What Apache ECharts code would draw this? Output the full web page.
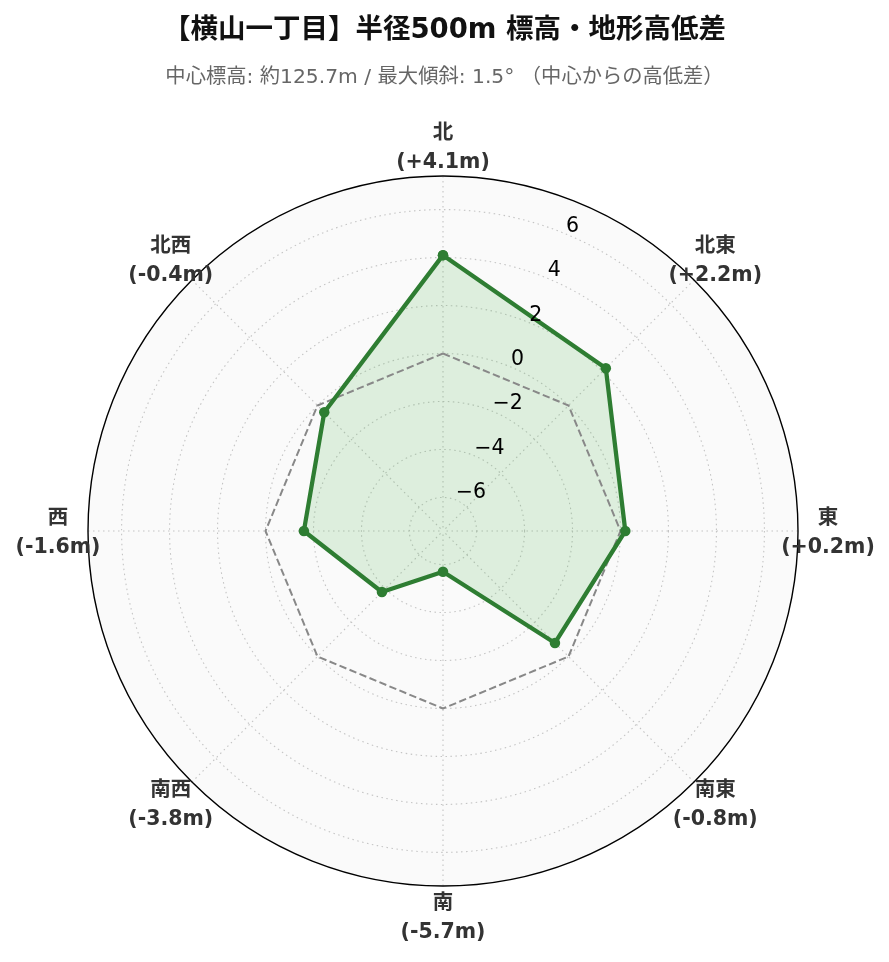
<!DOCTYPE html>
<html>
<head>
<meta charset="utf-8">
<script src="https://cdn.jsdelivr.net/npm/echarts@6/dist/echarts.min.js"></script>
<style>
html, body { margin: 0; padding: 0; background: #fff; }
#main { width: 889px; height: 962px; }
</style>
</head>
<body>
<div id="main"></div>
<script>
// 方位と中心からの高低差 (m)
var directions = ['北', '北東', '東', '南東', '南', '南西', '西', '北西'];
var dirAngles = [0, 45, 90, 135, 180, 225, 270, 315];
var elevDiff = [4.1, 2.2, 0.2, -0.8, -5.7, -3.8, -1.6, -0.4];
// 半径軸の目盛り
var radialTicks = [-6, -4, -2, 0, 2, 4, 6];
var rMin = -7.4, rMax = 7.4;
var tickLabelAngle = 22.5;

var titleText = '【横山一丁目】半径500m 標高・地形高低差';
var subText = '中心標高: 約125.7m / 最大傾斜: 1.5° （中心からの高低差）';

var FONT = "'DejaVu Sans', 'Noto Sans CJK JP', sans-serif";
var CX = 443, CY = 531, R = 355;

var chart = echarts.init(document.getElementById('main'));

function signed(v) {
    return (v > 0 ? '+' : '') + v.toFixed(1) + 'm';
}

// 折れ線を閉じる
var lineData = [], zeroData = [];
for (var i = 0; i < dirAngles.length; i++) {
    lineData.push([elevDiff[i], dirAngles[i]]);
    zeroData.push([0, dirAngles[i]]);
}
lineData.push([elevDiff[0], dirAngles[0]]);
zeroData.push([0, dirAngles[0]]);

// 方位ラベル（外周の外側）
var dirLabelData = [];
for (var j = 0; j < dirAngles.length; j++) {
    var a = dirAngles[j] * Math.PI / 180;
    dirLabelData.push({
        value: [rMax, dirAngles[j]],
        name: directions[j],
        label: { offset: [30 * Math.sin(a), -30 * Math.cos(a) + 2] }
    });
}

var tickData = radialTicks.map(function (v) { return [v, tickLabelAngle]; });

var option = {
    backgroundColor: '#fff',
    animation: false,
    title: [
        {
            text: titleText,
            left: 'center',
            top: 17,
            padding: 0,
            textStyle: { fontFamily: FONT, fontSize: 27.5, fontWeight: 'bold', color: '#111' }
        },
        {
            text: subText,
            left: 'center',
            top: 68,
            padding: 0,
            textStyle: { fontFamily: FONT, fontSize: 20.3, fontWeight: 'normal', color: '#666' }
        }
    ],
    polar: {
        center: [CX, CY],
        radius: R
    },
    angleAxis: {
        type: 'value',
        min: 0,
        max: 360,
        interval: 45,
        startAngle: 90,
        clockwise: true,
        z: 1,
        axisLine: { show: true, lineStyle: { color: '#000', width: 1.4 } },
        axisTick: { show: false },
        axisLabel: { show: false },
        splitLine: { show: true, lineStyle: { color: '#c4c4c4', width: 1.1, type: [1.5, 3.5] } }
    },
    radiusAxis: {
        type: 'value',
        min: rMin,
        max: rMax,
        z: 1,
        axisLine: { show: false },
        axisTick: { show: false, customValues: radialTicks },
        axisLabel: { show: false, customValues: radialTicks },
        splitLine: { show: true, lineStyle: { color: '#c4c4c4', width: 1.1, type: [1.5, 3.5] } }
    },
    series: [
        {
            // 背景
            type: 'pie',
            center: [CX, CY],
            radius: R,
            silent: true,
            z: 0,
            label: { show: false },
            labelLine: { show: false },
            itemStyle: { color: '#fafafa', borderWidth: 0 },
            data: [{ value: 1 }]
        },
        {
            // 0m 基準線
            type: 'line',
            coordinateSystem: 'polar',
            data: zeroData,
            symbol: 'none',
            silent: true,
            lineStyle: { color: '#888', width: 2, type: [7.4, 3.4] }
        },
        {
            type: 'line',
            coordinateSystem: 'polar',
            data: lineData,
            symbol: 'circle',
            symbolSize: 10.5,
            itemStyle: { color: '#2e7d32' },
            lineStyle: { color: '#2e7d32', width: 4.3 },
            areaStyle: { origin: 'start', color: 'rgba(76,175,80,0.17)', opacity: 1 },
            z: 3
        },
        {
            // 半径軸ラベル
            type: 'scatter',
            coordinateSystem: 'polar',
            data: tickData,
            symbolSize: 1,
            silent: true,
            itemStyle: { color: 'rgba(0,0,0,0)', opacity: 1 },
            label: {
                show: true,
                position: [0.5, 3.5],
                align: 'left',
                verticalAlign: 'bottom',
                fontFamily: FONT,
                fontSize: 20.5,
                color: '#000',
                formatter: function (p) {
                    var v = p.value[0];
                    return v < 0 ? '\u2212' + Math.abs(v) : String(v);
                }
            },
            z: 4
        },
        {
            // 方位ラベル
            type: 'scatter',
            coordinateSystem: 'polar',
            data: dirLabelData,
            symbolSize: 1,
            silent: true,
            itemStyle: { color: 'rgba(0,0,0,0)', opacity: 1 },
            label: {
                show: true,
                position: [0.5, 0.5],
                align: 'center',
                verticalAlign: 'middle',
                fontFamily: FONT,
                fontSize: 20.5,
                fontWeight: 'bold',
                lineHeight: 29,
                color: '#333',
                formatter: function (p) {
                    return directions[p.dataIndex] + '\n(' + signed(elevDiff[p.dataIndex]) + ')';
                }
            },
            z: 4
        }
    ]
};

chart.setOption(option);
</script>
</body>
</html>
